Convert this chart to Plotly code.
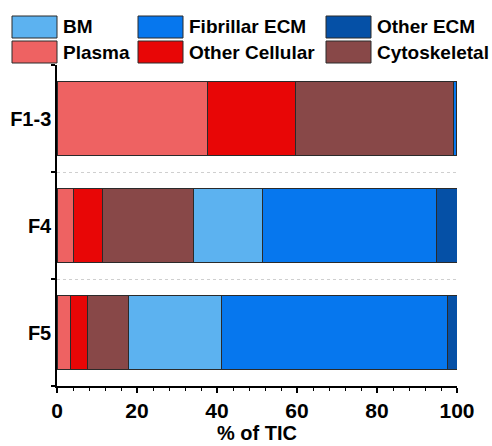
import plotly.graph_objects as go

categories = ["F1-3", "F4", "F5"]
series_names = ["Plasma", "Other Cellular", "Cytoskeletal", "BM", "Fibrillar ECM", "Other ECM"]
plasma = [37.5, 4.1, 3.4]
other_cellular = [22.2, 7.3, 4.3]
cytoskeletal = [39.5, 22.6, 10.1]
bm = [0.0, 17.4, 23.4]
fibrillar_ecm = [0.6, 43.4, 56.4]
other_ecm = [0.2, 5.2, 2.4]
x_ticks = [0, 20, 40, 60, 80, 100]
x_title = "% of TIC"

values = [plasma, other_cellular, cytoskeletal, bm, fibrillar_ecm, other_ecm]
colors = {
    "Plasma": "#ee6262",
    "Other Cellular": "#e80606",
    "Cytoskeletal": "#884848",
    "BM": "#5cb2f0",
    "Fibrillar ECM": "#0677ee",
    "Other ECM": "#0550a6",
}

W, H = 492, 446
ML, MR, MT, MB = 57, 35, 65, 60
PW, PH = W - ML - MR, H - MT - MB
FONT = "Liberation Sans, Arial, sans-serif"

fig = go.Figure()
for name, vals in zip(series_names, values):
    fig.add_trace(go.Bar(
        y=categories, x=vals, name=name, orientation="h",
        marker=dict(color=colors[name], line=dict(color="#2a2a2a", width=1)),
        showlegend=False,
    ))

def px_x(p):
    return (p - ML) / PW

def px_y(p):
    return (H - MB - p) / PH

legend_rows = [["BM", "Fibrillar ECM", "Other ECM"], ["Plasma", "Other Cellular", "Cytoskeletal"]]
col_x = [12, 138, 326]
row_y = [16, 41]
sw_w, sw_h = 45, 22
shapes = []
annotations = []
for r, row in enumerate(legend_rows):
    for c, name in enumerate(row):
        x0 = col_x[c]
        y0 = row_y[r]
        shapes.append(dict(type="rect", xref="paper", yref="paper",
                           x0=px_x(x0), x1=px_x(x0 + sw_w), y0=px_y(y0 + sw_h), y1=px_y(y0),
                           fillcolor=colors[name], line=dict(color="#2a2a2a", width=1)))
        annotations.append(dict(xref="paper", yref="paper", x=px_x(x0 + sw_w + 4),
                                y=px_y(y0 + sw_h / 2), xanchor="left", yanchor="middle",
                                text="<b>%s</b>" % name, showarrow=False,
                                font=dict(family=FONT, size=19, color="black")))

annotations.append(dict(xref="paper", yref="paper", x=0.5, y=px_y(433),
                        xanchor="center", yanchor="middle", showarrow=False,
                        text="<b>%s</b>" % x_title,
                        font=dict(family=FONT, size=20, color="black")))

fig.update_layout(
    width=W, height=H,
    margin=dict(l=ML, r=MR, t=MT, b=MB, autoexpand=False),
    barmode="stack", bargap=0.3,
    plot_bgcolor="white", paper_bgcolor="white",
    font=dict(family=FONT, color="black"),
    shapes=shapes, annotations=annotations,
)
fig.update_xaxes(
    range=[0, 100], tickvals=x_ticks, ticktext=["<b>%d</b>" % t for t in x_ticks],
    ticks="outside", ticklen=5, tickwidth=1.5, tickcolor="black",
    minor=dict(dtick=4, ticks="outside", ticklen=3, tickwidth=1, tickcolor="black", showgrid=False),
    showline=True, linecolor="black", linewidth=1.5, showgrid=False, zeroline=False,
    tickfont=dict(family=FONT, size=21, color="black"), automargin=False,
)
fig.update_yaxes(
    type="category", categoryorder="array", categoryarray=categories,
    range=[2.5, -0.5], tickson="boundaries",
    tickvals=categories, ticktext=["<b>%s</b>" % c for c in categories],
    ticks="outside", ticklen=4, tickwidth=1.5, tickcolor="black",
    showline=True, linecolor="black", linewidth=1.5,
    showgrid=True, gridcolor="#cfcfcf", griddash="dot", gridwidth=1,
    tickfont=dict(family=FONT, size=20, color="black"), automargin=False,
)
fig.write_html("out.html", config={"displayModeBar": False},
               post_script="document.body.style.margin='0';document.body.style.overflow='hidden';")
